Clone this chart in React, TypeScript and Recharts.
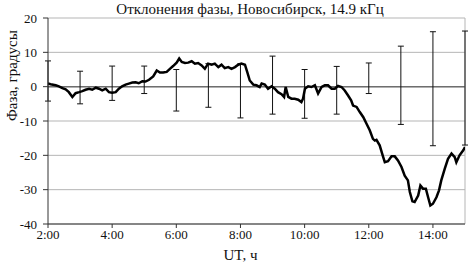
import {
  ComposedChart,
  Line,
  Scatter,
  ErrorBar,
  XAxis,
  YAxis,
  CartesianGrid,
  ReferenceLine,
} from 'recharts'

// hours UT (decimal) and phase deviation, degrees
const TIME = [
  2.0, 2.08, 2.24, 2.34, 2.45, 2.55, 2.65, 2.76, 2.86, 2.97, 3.07, 3.17, 3.28, 3.38, 3.49, 3.59,
  3.69, 3.8, 3.9, 4.0, 4.11, 4.21, 4.31, 4.42, 4.52, 4.63, 4.73, 4.83, 4.94, 5.04, 5.15, 5.28,
  5.39, 5.49, 5.59, 5.7, 5.8, 5.9, 6.01, 6.09, 6.17, 6.27, 6.37, 6.48, 6.58, 6.68, 6.79, 6.89,
  6.99, 7.1, 7.2, 7.31, 7.41, 7.51, 7.62, 7.72, 7.83, 7.93, 8.03, 8.14, 8.21, 8.29, 8.4, 8.5,
  8.6, 8.66, 8.76, 8.86, 8.97, 9.07, 9.17, 9.28, 9.36, 9.41, 9.49, 9.59, 9.69, 9.8, 9.9, 9.95,
  10.01, 10.11, 10.21, 10.32, 10.42, 10.53, 10.63, 10.73, 10.84, 10.94, 11.04, 11.15, 11.25,
  11.35, 11.45, 11.51, 11.62, 11.72, 11.83, 11.93, 12.03, 12.13, 12.19, 12.24, 12.34, 12.45,
  12.5, 12.6, 12.71, 12.81, 12.91, 13.02, 13.12, 13.22, 13.28, 13.36, 13.43, 13.54, 13.61,
  13.69, 13.78, 13.85, 13.92, 14.0, 14.11, 14.19, 14.26, 14.37, 14.47, 14.58, 14.68, 14.73,
  14.83, 14.94, 15.0,
]
const PHASE = [
  0.9, 0.7, 0.4, 0.1, -0.4, -0.8, -1.6, -3.0, -1.9, -1.6, -1.3, -0.9, -0.6, -0.9, -0.3, -0.6,
  -1.1, -0.6, -1.6, -1.8, -1.6, -0.6, 0.1, 0.6, 0.9, 1.2, 1.3, 1.0, 1.6, 1.5, 2.0, 3.0,
  4.7, 4.1, 4.1, 4.3, 5.2, 6.0, 7.0, 8.2, 7.2, 6.9, 7.0, 7.4, 6.7, 6.9, 6.2, 5.2,
  6.7, 6.4, 6.7, 5.7, 6.4, 5.4, 5.7, 5.2, 5.7, 6.4, 6.7, 6.4, 4.3, 1.8, 0.6, 0.4,
  -0.1, 0.9, 0.6, -0.6, 0.1, -0.6, -1.6, -2.2, -3.0, -0.1, -3.0, -3.5, -3.5, -3.8, -4.5, -3.5,
  -0.6, 0.1, -0.1, 0.4, -2.0, -0.1, 0.4, 0.4, -0.6, -0.6, 0.2, -0.1, -1.1,
  -2.5, -4.0, -5.5, -5.9, -7.4, -8.9, -10.8, -12.7, -15.2, -15.7, -15.5, -17.1, -20.5,
  -22.0, -21.7, -20.3, -20.3, -21.5, -23.4, -25.9, -27.3, -30.7, -33.4, -33.6, -31.7, -28.8,
  -29.7, -29.7, -32.2, -34.6, -34.1, -32.2, -30.2, -27.3, -23.9, -21.0, -19.5, -20.5, -22.0,
  -20.0, -18.6, -17.6,
]

// hourly spread (top / bottom of each error bar)
const ERR_HOURS = [2, 3, 4, 5, 6, 7, 8, 9, 10, 11, 12, 13, 14, 15]
const ERR_HIGH = [7.5, 4.5, 6.0, 6.0, 5.0, 6.7, 6.7, 8.9, 5.0, 5.9, 6.9, 11.8, 16.0, 16.2]
const ERR_LOW = [-4.2, -5.0, -4.0, -2.0, -7.1, -6.0, -9.1, -8.0, -9.2, -8.0, -2.0, -11.0, -17.2, -17.0]

const X_TICKS = [2, 4, 6, 8, 10, 12, 14]
const Y_TICKS = [-40, -30, -20, -10, 0, 10, 20]

const lineData = TIME.map((t, i) => ({ t, v: PHASE[i] }))
const errData = ERR_HOURS.map((t, i) => ({
  t,
  mid: (ERR_HIGH[i] + ERR_LOW[i]) / 2,
  err: (ERR_HIGH[i] - ERR_LOW[i]) / 2,
}))

const SERIF = "'Liberation Serif', 'Times New Roman', serif"
const tick = { fill: '#111', fontSize: 13, fontFamily: SERIF }

export default function App() {
  return (
    <div style={{ position: 'absolute', left: 0, top: 0, width: 472, height: 262, background: '#fff' }}>
      <div
        style={{
          position: 'absolute',
          left: 0,
          top: 0,
          width: 500,
          textAlign: 'center',
          fontFamily: SERIF,
          fontSize: 15,
          lineHeight: '18px',
          color: '#111',
        }}
      >
        Отклонения фазы, Новосибирск, 14.9 кГц
      </div>
      <ComposedChart width={472} height={262} margin={{ top: 18, right: 7, left: 0, bottom: 0 }}>
        <CartesianGrid vertical={false} stroke="#b5b5b5" />
        <XAxis
          type="number"
          dataKey="t"
          domain={[2, 15]}
          ticks={X_TICKS}
          tickFormatter={(h: number) => `${h}:00`}
          tick={tick}
          stroke="#333"
          tickSize={4}
          height={38}
          allowDataOverflow
          label={{ value: 'UT, ч', position: 'insideBottom', offset: 2, dx: -16, fill: '#111', fontSize: 15, fontFamily: SERIF }}
        />
        <YAxis
          type="number"
          domain={[-40, 20]}
          ticks={Y_TICKS}
          tick={{ ...tick, dx: -4 }}
          stroke="#333"
          tickSize={5}
          width={48}
          allowDataOverflow
          label={{ value: 'Фаза, градусы', angle: -90, position: 'insideLeft', offset: 12, fill: '#111', fontSize: 15, fontFamily: SERIF }}
        />
        <ReferenceLine y={0} stroke="#6e6e6e" strokeWidth={1.5} />
        <ReferenceLine x={15} stroke="#b5b5b5" />
        <Scatter data={errData} dataKey="mid" shape={() => <g />} isAnimationActive={false}>
          <ErrorBar dataKey="err" direction="y" width={3} stroke="#111" strokeWidth={1} />
        </Scatter>
        <Line
          data={lineData}
          dataKey="v"
          type="linear"
          stroke="#000"
          strokeWidth={2.5}
          dot={false}
          isAnimationActive={false}
        />
      </ComposedChart>
    </div>
  )
}
